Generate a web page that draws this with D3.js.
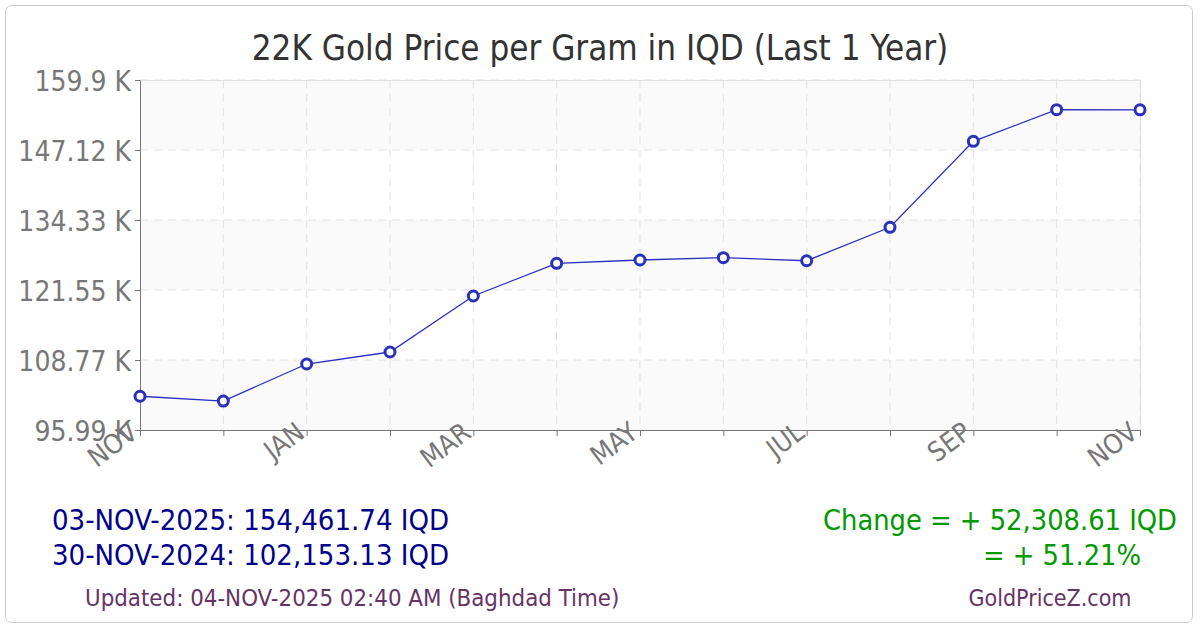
<!DOCTYPE html>
<html><head><meta charset="utf-8">
<script src="https://cdn.jsdelivr.net/npm/d3@7"></script>
<style>body{margin:0;background:#fff}svg{display:block}text{font-family:"DejaVu Sans Condensed","DejaVu Sans",sans-serif;font-stretch:condensed}</style>
</head><body><svg id="c" width="1200" height="630"></svg>
<script>
const months = ["NOV","DEC","JAN","FEB","MAR","APR","MAY","JUN","JUL","AUG","SEP","OCT","NOV"];
const prices = [102153,101280,108040,110230,120460,126430,127030,127450,126900,133000,148700,154480,154462];
const yTicks = [95990,108770,121550,134330,147120,159900];
const yTickLabels = ["95.99 K","108.77 K","121.55 K","134.33 K","147.12 K","159.9 K"];
const shownMonths = [0,2,4,6,8,10,12];

const FF = "DejaVu Sans Condensed";
const svg = d3.select("#c");
const L=140,R=1140,T=80,B=430;
svg.append("rect").attr("x",5.5).attr("y",5.5).attr("width",1187).attr("height",617).attr("rx",6)
  .attr("fill","#fff").attr("stroke","#ccc");

const x = d3.scalePoint().domain(d3.range(months.length)).range([L,R]);
const y = d3.scaleLinear().domain([yTicks[0],yTicks[yTicks.length-1]]).range([B,T]);

for(let i=0;i<yTicks.length-1;i++){
  svg.append("rect").attr("x",L).attr("width",R-L).attr("y",y(yTicks[i+1])).attr("height",y(yTicks[i])-y(yTicks[i+1]))
    .attr("fill", i%2===0 ? "#fafafa" : "#ffffff");
}
const g = svg.append("g");
g.selectAll(".hg").data(yTicks.slice(1)).join("line").attr("x1",L).attr("x2",R).attr("y1",d=>y(d)).attr("y2",d=>y(d))
  .attr("stroke","#e2e2e2").attr("stroke-dasharray","8,6");
g.selectAll(".vg").data(d3.range(1,months.length)).join("line").attr("x1",d=>x(d)).attr("x2",d=>x(d)).attr("y1",T).attr("y2",B)
  .attr("stroke","#e2e2e2").attr("stroke-dasharray","8,6");
svg.append("line").attr("x1",L).attr("x2",R).attr("y1",T+0.5).attr("y2",T+0.5).attr("stroke","#e2e2e2");
svg.append("line").attr("x1",R+0.5).attr("x2",R+0.5).attr("y1",T).attr("y2",B).attr("stroke","#e2e2e2");

const yAxis = d3.axisLeft(y).tickValues(yTicks).tickFormat((d,i)=>yTickLabels[i]).tickSize(5).tickPadding(4);
const ya = svg.append("g").attr("transform",`translate(${L},0)`).call(yAxis);
ya.select(".domain").attr("stroke","#777");
ya.selectAll(".tick line").attr("stroke","#777");
ya.selectAll("text").attr("fill","#777").attr("font-size",28).attr("font-family",FF).attr("dy","0.38em");

const xAxis = d3.axisBottom(x).tickSize(6).tickFormat(i=>shownMonths.includes(i)?months[i]:"");
const xa = svg.append("g").attr("transform",`translate(0,${B})`).call(xAxis);
xa.select(".domain").attr("stroke","#777");
xa.selectAll(".tick line").attr("stroke","#777");
xa.selectAll("text").attr("fill","#777").attr("font-size",27).attr("font-family",FF)
  .attr("text-anchor","end").attr("dy",0).attr("y",0)
  .attr("transform","translate(-1,6) rotate(-37)");

const line = d3.line().x((d,i)=>x(i)).y(d=>y(d));
svg.append("path").datum(prices).attr("d",line).attr("fill","none").attr("stroke","#2a30c0").attr("stroke-width",1.3);
svg.selectAll(".pt").data(prices).join("circle").attr("cx",(d,i)=>x(i)).attr("cy",d=>y(d)).attr("r",5)
  .attr("fill","#fff").attr("stroke","#2a30b8").attr("stroke-width",3);

svg.append("text").attr("x",600).attr("y",60).attr("text-anchor","middle").attr("font-size",34.7).attr("fill","#333")
  .text("22K Gold Price per Gram in IQD (Last 1 Year)");

svg.append("text").attr("x",52).attr("y",530).attr("font-size",29).attr("fill","#00008b").text("03-NOV-2025: 154,461.74 IQD");
svg.append("text").attr("x",52).attr("y",565).attr("font-size",29).attr("fill","#00008b").text("30-NOV-2024: 102,153.13 IQD");
svg.append("text").attr("x",85).attr("y",606).attr("font-size",23.8).attr("fill","#663366").text("Updated: 04-NOV-2025 02:40 AM (Baghdad Time)");
svg.append("text").attr("x",1177).attr("y",530).attr("text-anchor","end").attr("font-size",28.7).attr("fill","#009900").text("Change = + 52,308.61 IQD");
svg.append("text").attr("x",1141).attr("y",565).attr("text-anchor","end").attr("font-size",28.7).attr("fill","#009900").text("= + 51.21%");
svg.append("text").attr("x",1050).attr("y",606).attr("text-anchor","middle").attr("font-size",23).attr("fill","#663366").text("GoldPriceZ.com");
</script></body></html>
